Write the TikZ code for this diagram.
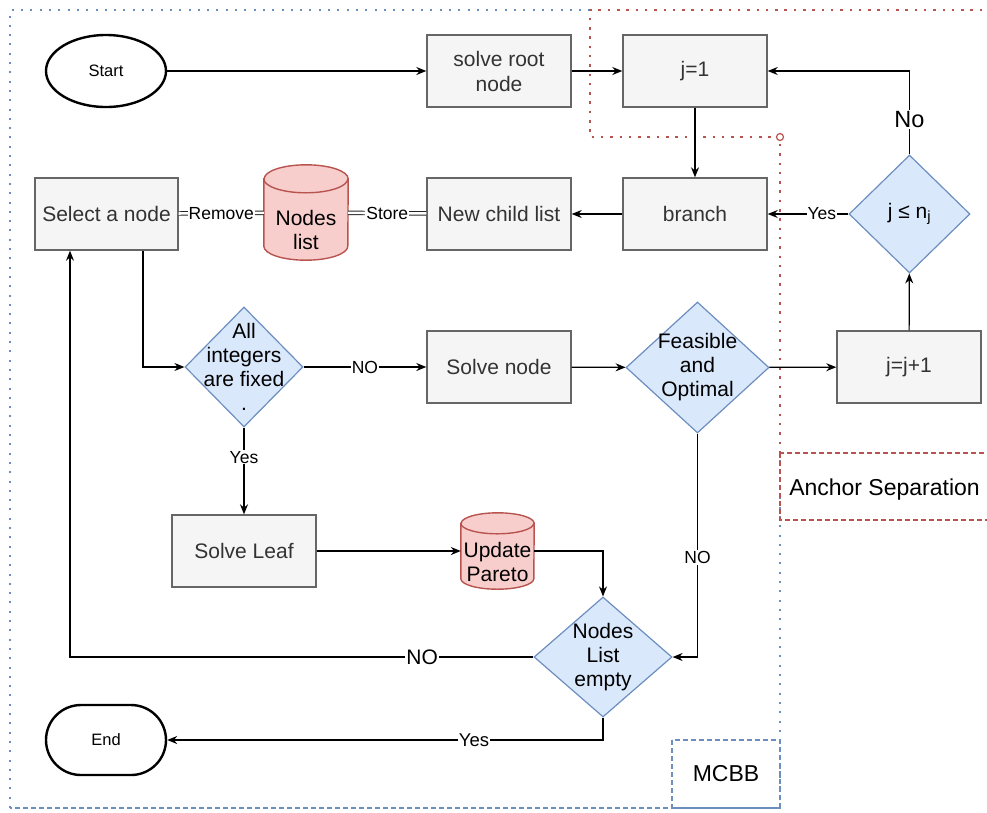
\documentclass[tikz,border=0pt]{standalone}
\usepackage{fontspec}
\setmainfont{Liberation Sans}
\usetikzlibrary{shapes.geometric,arrows.meta,calc}
\definecolor{boxFill}{HTML}{F5F5F5}
\definecolor{boxLine}{HTML}{666666}
\definecolor{boxText}{HTML}{333333}
\definecolor{decFill}{HTML}{DAE8FC}
\definecolor{decLine}{HTML}{6C8EBF}
\definecolor{dbFill}{HTML}{F8CECC}
\definecolor{dbLine}{HTML}{B85450}
\tikzset{
    process/.style = {rectangle, draw=boxLine, fill=boxFill, text=boxText, line width=1.4pt,
        minimum width=144pt, minimum height=72pt, inner sep=0pt, align=center,
        font=\fontsize{21}{25}\selectfont},
    decision/.style = {diamond, draw=decLine, fill=decFill, line width=1.2pt, inner sep=0pt},
    decisionText/.style = {align=center, inner sep=0pt, font=\fontsize{21}{24}\selectfont},
    dbShape/.style = {draw=dbLine, fill=dbFill, line width=1.4pt},
    dbText/.style = {align=center, inner sep=0pt, font=\fontsize{21}{24}\selectfont},
    terminal/.style = {draw=black, fill=white, line width=2.4pt, minimum width=120pt,
        minimum height=72pt, inner sep=0pt, font=\fontsize{16.5}{20}\selectfont},
    arrowLine/.style = {-{Stealth[length=10pt,width=8pt]}, line width=1.2pt},
    linkLine/.style = {double=white, double distance=2.6pt, line width=0.9pt, draw=black!85},
    edgeLabel/.style = {fill=white, inner sep=1pt, font=\fontsize{17.5}{20}\selectfont},
    groupText/.style = {inner sep=0pt, font=\fontsize{23}{26}\selectfont},
    mcbbDots/.style = {draw=decLine, line width=2pt, dash pattern=on 2pt off 7.3pt},
    mcbbDash/.style = {draw=decLine, line width=1.2pt, dash pattern=on 5pt off 3pt},
    anchorDots/.style = {draw=dbLine, line width=2.2pt, dash pattern=on 2.5pt off 6.8pt, dash phase=4.5pt},
    anchorDash/.style = {draw=dbLine, line width=1.2pt, dash pattern=on 5pt off 3pt}
}
\newcommand{\decisionBlock}[5]{
    \node[decision, minimum width=#3, minimum height=#4] (#1) at #2 {};
    \node[decisionText] (#1Text) at (#1) {#5};
}
\newcommand{\storeBlock}[7]{
    \node[inner sep=0pt, minimum width=2*#3, minimum height=#5] (#1) at #2 {};
    \draw[dbShape] ([yshift=-#4]#1.north west) -- ([yshift=#4]#1.south west)
        arc[start angle=180, end angle=360, x radius=#3, y radius=#4]
        -- ([yshift=-#4]#1.north east)
        arc[start angle=0, end angle=180, x radius=#3, y radius=#4] -- cycle;
    \draw[dbShape, fill=none] ([yshift=-#4]#1.north west)
        arc[start angle=180, end angle=360, x radius=#3, y radius=#4];
    \node[dbText] (#1Text) at ([yshift=#6]#1.center) {#7};
}
\newcommand{\linkCB}[3]{
    \draw[linkLine] (#1) -- node[edgeLabel] {#3} (#2);
}

\begin{document}
\begin{tikzpicture}[x=1pt, y=-1pt]
    \useasboundingbox (0,0) rectangle (987,812);

    \draw[mcbbDots] (10,808) -- (10,10) -- (590,10) -- (590,137) -- (780,137) -- (780,808);
    \draw[mcbbDash] (780,808) -- (10,808);
    \draw[anchorDots] (987,10) -- (590,10) -- (590,137) -- (780,137) -- (780,453);
    \draw[anchorDash] (780,453) rectangle (995,520);
    \draw[mcbbDash] (672,740) rectangle (780,808);
    \draw[draw=dbLine, line width=1.2pt, fill=white] (780,137) circle[radius=3.5pt];
    \node[groupText] (anchorLabel) at (884.5,490) {Anchor Separation};
    \node[groupText] (mcbbLabel) at (726,774) {MCBB};

    \node[terminal, ellipse] (start) at (106,71) {Start};
    \node[terminal, rounded corners=35pt, minimum height=70pt] (theEnd) at (106,740) {End};

    \node[process] (solveRoot) at (499,71) {solve root\\node};
    \node[process] (jOne) at (695,71) {j=1};
    \node[process] (branch) at (695,214) {branch};
    \node[process] (childList) at (499,214) {New child list};
    \node[process, minimum width=143pt] (selectNode) at (106.5,214) {Select a node};
    \node[process] (solveNode) at (499,367) {Solve node};
    \node[process] (jInc) at (909,367) {j=j+1};
    \node[process] (solveLeaf) at (244,551) {Solve Leaf};

    \storeBlock{nodesList}{(306,212.5)}{42pt}{14pt}{95pt}{-17pt}{Nodes\\list}
    \storeBlock{pareto}{(497.5,551)}{36.5pt}{10.5pt}{76pt}{-11pt}{Update\\Pareto}

    \decisionBlock{jCheck}{(909.5,214)}{121pt}{118pt}{j ≤ n\textsubscript{j}}
    \decisionBlock{allFixed}{(244,367)}{118pt}{120pt}{All\\integers\\are fixed\\.}
    \decisionBlock{feasible}{(697.5,367.5)}{143pt}{131pt}{Feasible\\and\\Optimal}
    \decisionBlock{listEmpty}{(603,657)}{138pt}{120pt}{Nodes\\List\\empty}

    \draw[arrowLine] (start) -- (solveRoot);
    \draw[arrowLine] (solveRoot) -- (jOne);
    \draw[arrowLine] (jOne) -- (branch);
    \draw[arrowLine] (jCheck.north) |- node[edgeLabel, pos=0.21, font=\fontsize{23.5}{26}\selectfont] {No} (jOne.east);
    \draw[arrowLine] (jCheck) -- node[edgeLabel, pos=0.33] {Yes} (branch);
    \draw[arrowLine] (branch) -- (childList);
    \linkCB{childList}{nodesList}{Store}
    \linkCB{nodesList}{selectNode}{Remove}
    \draw[arrowLine] ([xshift=36.5pt]selectNode.south) |- (allFixed.west);
    \draw[arrowLine] (allFixed) -- node[edgeLabel] {NO} (solveNode);
    \draw[arrowLine] (solveNode) -- (feasible);
    \draw[arrowLine] (feasible) -- (jInc);
    \draw[arrowLine] (jInc) -- (jCheck);
    \draw[arrowLine] (feasible.south) |- node[edgeLabel, pos=0.277] {NO} (listEmpty.east);
    \draw[arrowLine] (allFixed) -- node[edgeLabel, pos=0.34] {Yes} (solveLeaf);
    \draw[arrowLine] (solveLeaf) -- (pareto);
    \draw[arrowLine] (pareto.east) -| (listEmpty.north);
    \draw[arrowLine] (listEmpty.west) -| node[edgeLabel, pos=0.12, font=\fontsize{21}{24}\selectfont] {NO} ([xshift=-36.5pt]selectNode.south);
    \draw[arrowLine] (listEmpty.south) |- node[edgeLabel, pos=0.648, font=\fontsize{18.5}{21}\selectfont] {Yes} (theEnd.east);
\end{tikzpicture}
\end{document}
